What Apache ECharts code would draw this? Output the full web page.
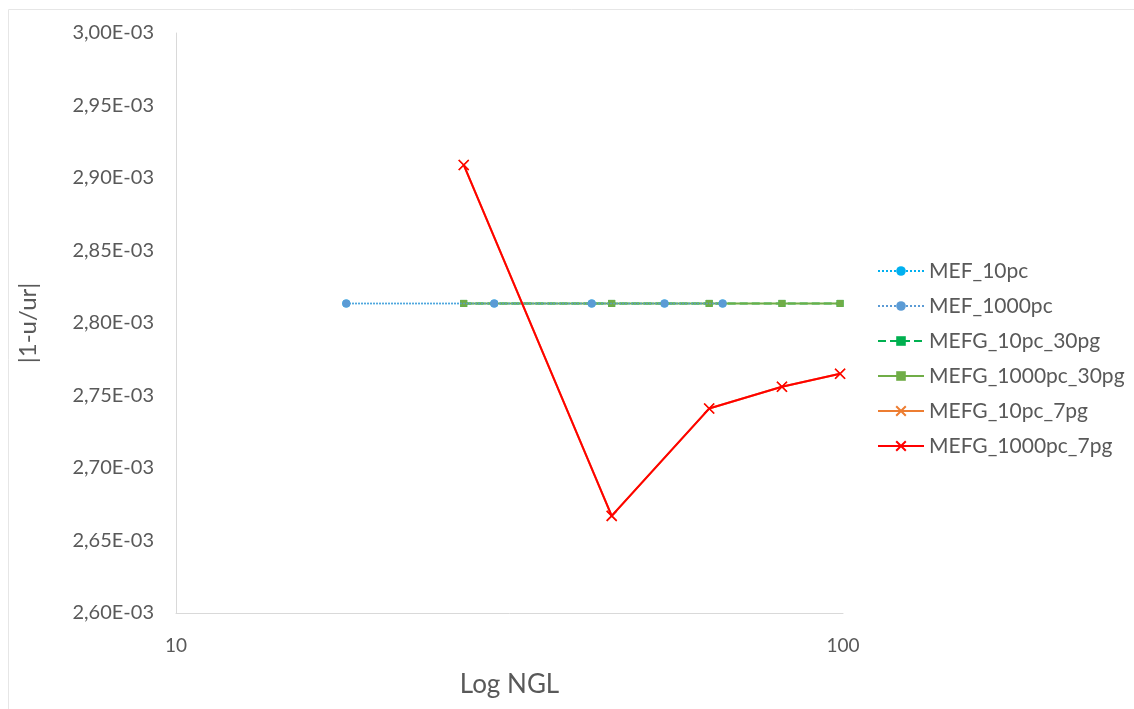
<!DOCTYPE html>
<html>
<head>
<meta charset="utf-8">
<script src="https://cdn.jsdelivr.net/npm/echarts@6/dist/echarts.min.js"></script>
<style>
  html, body { margin: 0; padding: 0; background: #ffffff; }
  #chart { width: 1134px; height: 709px; }
</style>
</head>
<body>
<div id="chart"></div>
<script>
// NGL sample points per method family
const nglMEF = [18, 30, 42, 54, 66];
const nglMEFG = [27, 45, 63, 81, 99];

// |1-u/ur| values for each series
const errMEF10 = [2.8135e-3, 2.8135e-3, 2.8135e-3, 2.8135e-3, 2.8135e-3];
const errMEF1000 = [2.8135e-3, 2.8135e-3, 2.8135e-3, 2.8135e-3, 2.8135e-3];
const errMEFG10_30 = [2.8135e-3, 2.8135e-3, 2.8135e-3, 2.8135e-3, 2.8135e-3];
const errMEFG1000_30 = [2.8135e-3, 2.8135e-3, 2.8135e-3, 2.8135e-3, 2.8135e-3];
const errMEFG10_7 = [2.909e-3, 2.667e-3, 2.741e-3, 2.756e-3, 2.765e-3];
const errMEFG1000_7 = [2.909e-3, 2.667e-3, 2.741e-3, 2.756e-3, 2.765e-3];

const seriesNames = ['MEF_10pc', 'MEF_1000pc', 'MEFG_10pc_30pg', 'MEFG_1000pc_30pg', 'MEFG_10pc_7pg', 'MEFG_1000pc_7pg'];
const xTickLabels = ['10', '100'];

const pairs = (xs, ys) => xs.map((x, i) => [x, ys[i]]);
const crossSymbol = 'path://M0,0L10,10M10,0L0,10';

const chart = echarts.init(document.getElementById('chart'));
const textColor = '#595959';
const font = 'Lato, "Open Sans", sans-serif';

chart.setOption({
  animation: false,
  backgroundColor: '#ffffff',
  textStyle: { fontFamily: font },
  graphic: [{
    type: 'rect',
    shape: { x: 8.5, y: 9.5, width: 1140, height: 720 },
    style: { fill: 'none', stroke: '#e6e6e6', lineWidth: 1 },
    silent: true
  }],
  grid: { left: 176, right: 291, top: 33, bottom: 96, containLabel: false, outerBoundsMode: 'none' },
  legend: {
    orient: 'vertical',
    left: 872,
    top: 254,
    itemWidth: 46,
    itemHeight: 12,
    itemGap: 11,
    textStyle: { color: textColor, fontSize: 21, lineHeight: 24, fontFamily: font },
    data: seriesNames
  },
  xAxis: {
    type: 'log',
    logBase: 10,
    min: 10,
    max: 100,
    name: 'Log NGL',
    nameLocation: 'middle',
    nameGap: 59,
    nameTextStyle: { color: textColor, fontSize: 26, fontFamily: font },
    axisLine: { show: true, lineStyle: { color: '#d9d9d9', width: 1 } },
    axisTick: { show: false },
    splitLine: { show: false },
    axisLabel: {
      color: textColor, fontSize: 19, margin: 23,
      formatter: v => xTickLabels.includes(String(Math.round(v))) ? String(Math.round(v)) : ''
    }
  },
  yAxis: {
    type: 'value',
    min: 2.6e-3,
    max: 3.0e-3,
    interval: 0.05e-3,
    name: '|1-u/ur|',
    nameLocation: 'middle',
    nameGap: 136,
    nameRotate: 90,
    nameTextStyle: { color: textColor, fontSize: 24, fontFamily: font },
    axisLine: { show: true, lineStyle: { color: '#d9d9d9', width: 1 } },
    axisTick: { show: false },
    splitLine: { show: false },
    axisLabel: {
      color: textColor, fontSize: 20, margin: 22,
      formatter: v => (v * 1000).toFixed(2).replace('.', ',') + 'E-03'
    }
  },
  series: [
    {
      name: seriesNames[0], type: 'line', data: pairs(nglMEF, errMEF10),
      symbol: 'circle', symbolSize: 8, z: 2,
      lineStyle: { color: '#00B0F0', width: 1.5, type: 'dotted' },
      itemStyle: { color: '#00B0F0' }
    },
    {
      name: seriesNames[1], type: 'line', data: pairs(nglMEF, errMEF1000),
      symbol: 'circle', symbolSize: 8, z: 4,
      lineStyle: { color: '#5B9BD5', width: 1.5, type: 'dotted' },
      itemStyle: { color: '#5B9BD5' }
    },
    {
      name: seriesNames[2], type: 'line', data: pairs(nglMEFG, errMEFG10_30),
      symbol: 'rect', symbolSize: 7, z: 2,
      lineStyle: { color: '#00B050', width: 2, type: 'dashed' },
      itemStyle: { color: '#00B050' }
    },
    {
      name: seriesNames[3], type: 'line', data: pairs(nglMEFG, errMEFG1000_30),
      symbol: 'rect', symbolSize: 7, z: 3,
      lineStyle: { color: '#70AD47', width: 2 },
      itemStyle: { color: '#70AD47' }
    },
    {
      name: seriesNames[4], type: 'line', data: pairs(nglMEFG, errMEFG10_7),
      symbol: crossSymbol, symbolSize: 10, z: 5,
      lineStyle: { color: '#ED7D31', width: 2 },
      itemStyle: { color: '#ED7D31', borderColor: '#ED7D31', borderWidth: 1.5 }
    },
    {
      name: seriesNames[5], type: 'line', data: pairs(nglMEFG, errMEFG1000_7),
      symbol: crossSymbol, symbolSize: 10, z: 6,
      lineStyle: { color: '#FF0000', width: 2 },
      itemStyle: { color: '#FF0000', borderColor: '#FF0000', borderWidth: 1.5 }
    }
  ]
});
</script>
</body>
</html>
